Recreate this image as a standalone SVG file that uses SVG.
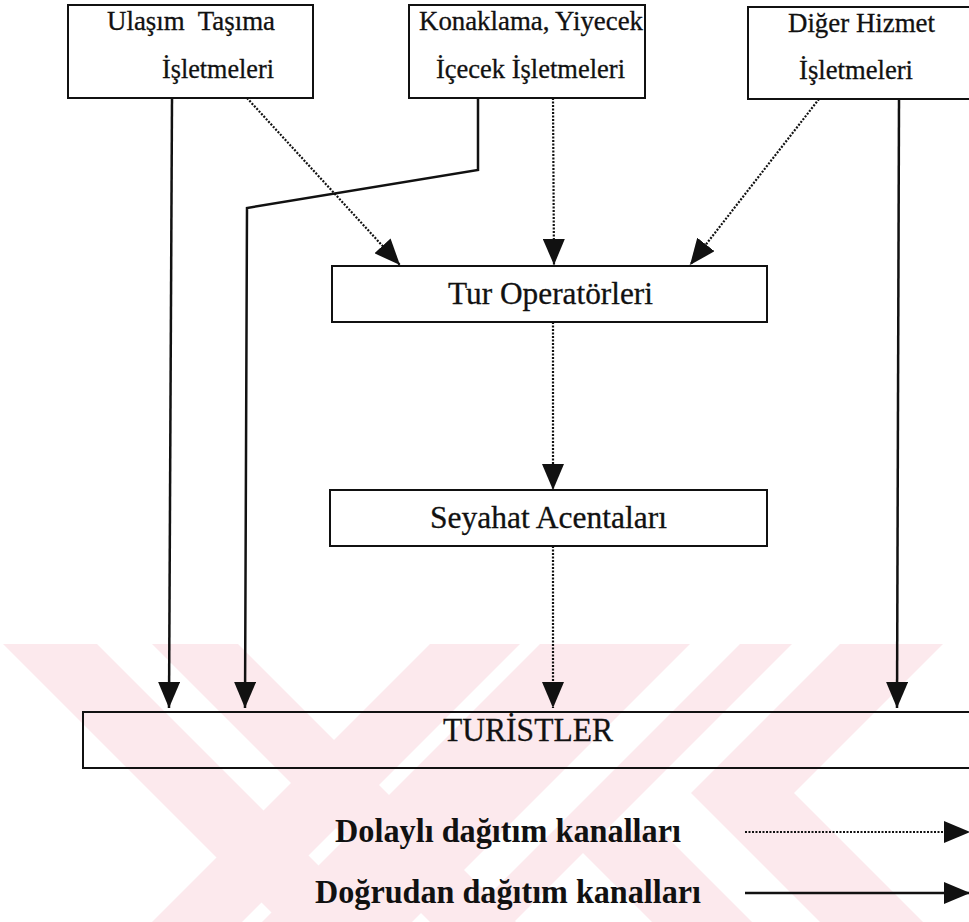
<svg xmlns="http://www.w3.org/2000/svg" width="969" height="922" viewBox="0 0 969 922">
  <defs>
    <style>
      .box { fill: #ffffff; stroke: #111; stroke-width: 2; }
      .band { fill: none; stroke: #111; stroke-width: 2; }
      .lbl { font-family: "Liberation Serif", "Times New Roman", serif; fill: #111; stroke: #111; stroke-width: 0.3; }
      .lbl27 { font-size: 27px; }
      .leg { font-family: "Liberation Serif", "Times New Roman", serif; font-size: 34px; font-weight: bold; fill: #111; }
      .solid { fill: none; stroke: #111; stroke-width: 2.5; }
      .dotted { fill: none; stroke: #111; stroke-width: 2.2; stroke-dasharray: 2 1.5; }
      .wm { fill: #fce9ed; }
    </style>
    <marker id="arrow" markerUnits="userSpaceOnUse" markerWidth="26" markerHeight="22" refX="26" refY="11" orient="auto">
      <path d="M0,0 L26,11 L0,22 Z" fill="#111"/>
    </marker>
    <clipPath id="wmClip">
      <rect x="0" y="644" width="943" height="278"/>
    </clipPath>
  </defs>

  <rect x="0" y="0" width="969" height="922" fill="#ffffff"/>

  <!-- faint background emblem -->
  <g id="watermark" clip-path="url(#wmClip)">
    <polygon class="wm" points="3,644 97,644 375,922 281,922"/>
    <polygon class="wm" points="152,644 238,644 516,922 430,922"/>
    <polygon class="wm" points="430,644 520,644 242,922 152,922"/>
    <polygon class="wm" points="540,644 690,644 412,922 262,922"/>
    <polygon class="wm" points="740,644 792,644 514,922 462,922"/>
    <polygon class="wm" points="840,644 943,644 794,793 691,793"/>
    <polygon class="wm" points="691,793 794,793 923,922 820,922"/>
    <polygon class="wm" points="560,830 660,830 752,922 652,922"/>
  </g>

  <!-- nodes -->
  <g id="ulasim">
    <rect class="box" x="68" y="5" width="245" height="93"/>
    <text class="lbl lbl27" x="107" y="30" textLength="168" lengthAdjust="spacingAndGlyphs" xml:space="preserve">Ulaşım  Taşıma</text>
    <text class="lbl lbl27" x="162" y="78" textLength="112" lengthAdjust="spacingAndGlyphs">İşletmeleri</text>
  </g>
  <g id="konaklama">
    <rect class="box" x="409" y="5" width="236" height="93"/>
    <text class="lbl lbl27" x="419" y="30" textLength="224" lengthAdjust="spacingAndGlyphs">Konaklama, Yiyecek</text>
    <text class="lbl lbl27" x="436" y="78" textLength="189" lengthAdjust="spacingAndGlyphs">İçecek İşletmeleri</text>
  </g>
  <g id="diger">
    <rect class="box" x="748" y="7" width="222" height="92"/>
    <text class="lbl lbl27" x="788" y="32" textLength="147" lengthAdjust="spacingAndGlyphs">Diğer Hizmet</text>
    <text class="lbl lbl27" x="799" y="79" textLength="114" lengthAdjust="spacingAndGlyphs">İşletmeleri</text>
  </g>
  <g id="tur-operatorleri">
    <rect class="box" x="332" y="266" width="435" height="56"/>
    <text class="lbl" x="448" y="304" font-size="32" textLength="205" lengthAdjust="spacingAndGlyphs">Tur Operatörleri</text>
  </g>
  <g id="seyahat-acentalari">
    <rect class="box" x="330" y="490" width="437" height="56"/>
    <text class="lbl" x="430" y="528" font-size="32.5" textLength="237" lengthAdjust="spacingAndGlyphs">Seyahat Acentaları</text>
  </g>
  <g id="turistler">
    <rect class="band" x="83" y="712" width="900" height="56"/>
    <text class="lbl" x="443" y="741" font-size="33" textLength="170" lengthAdjust="spacingAndGlyphs">TURİSTLER</text>
  </g>

  <!-- connectors -->
  <g id="connectors">
    <path class="solid" d="M172,98 L169,708" marker-end="url(#arrow)"/>
    <path class="solid" d="M478,98 L478,170 L247,208 L245,708" marker-end="url(#arrow)"/>
    <path class="solid" d="M899,99 L897,708" marker-end="url(#arrow)"/>
    <path class="dotted" d="M247,98 L400,265" marker-end="url(#arrow)"/>
    <path class="dotted" d="M553,98 L554,265" marker-end="url(#arrow)"/>
    <path class="dotted" d="M819,99 L690,265" marker-end="url(#arrow)"/>
    <path class="dotted" d="M553,322 L553,490" marker-end="url(#arrow)"/>
    <path class="dotted" d="M553,546 L553,708" marker-end="url(#arrow)"/>
  </g>

  <!-- legend -->
  <g id="legend">
    <text class="leg" x="508" y="842" text-anchor="middle" textLength="346" lengthAdjust="spacingAndGlyphs">Dolaylı dağıtım kanalları</text>
    <text class="leg" x="508" y="903" text-anchor="middle" textLength="386" lengthAdjust="spacingAndGlyphs">Doğrudan dağıtım kanalları</text>
    <path class="dotted" d="M745,832 L970,832" marker-end="url(#arrow)"/>
    <path class="solid" d="M745,893 L970,893" marker-end="url(#arrow)"/>
  </g>
</svg>
